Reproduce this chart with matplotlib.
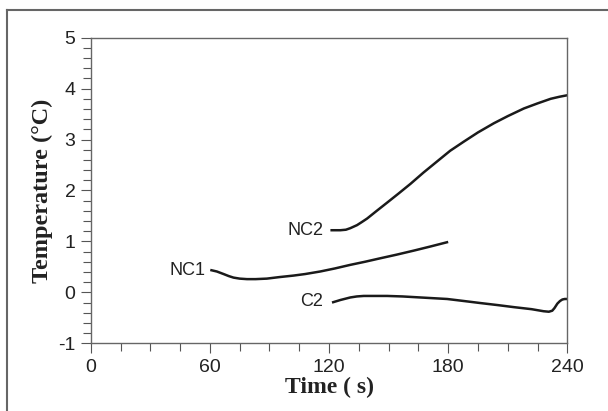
import matplotlib.pyplot as plt
from matplotlib.lines import Line2D
from matplotlib.ticker import MultipleLocator

plt.rcParams['axes.unicode_minus'] = False

# readings (time in s, temperature in degC)
t_nc1 = [60.2, 63.5, 66.9, 69.5, 71.9, 75.0, 78.7, 83.0, 88.7, 95.0, 102.2, 108.0,
         115.6, 123.0, 130.7, 138.0, 145.9, 154.0, 162.7, 171.0, 180.0]
T_nc1 = [0.44, 0.41, 0.36, 0.32, 0.29, 0.27, 0.26, 0.26, 0.27, 0.30, 0.33, 0.36,
         0.41, 0.47, 0.54, 0.60, 0.67, 0.74, 0.82, 0.90, 0.99]

t_nc2 = [120.7, 125.7, 128.5, 130.7, 134.1, 136.5, 139.2, 144.0, 149.2, 155.0, 161.0,
         167.5, 174.4, 181.0, 187.9, 195.0, 203.0, 210.0, 218.1, 225.0, 231.6, 236.0, 240.0]
T_nc2 = [1.22, 1.22, 1.23, 1.26, 1.32, 1.38, 1.45, 1.60, 1.76, 1.94, 2.13,
         2.35, 2.57, 2.78, 2.96, 3.14, 3.32, 3.46, 3.61, 3.71, 3.80, 3.84, 3.87]

t_c2 = [121.5, 125.7, 130.7, 134.0, 137.5, 143.0, 149.2, 157.0, 166.0, 179.5, 188.0,
        196.3, 205.0, 213.1, 222.0, 228.0, 230.7, 232.4, 233.5, 235.0, 236.3, 237.5, 238.7, 240.0]
T_c2 = [-0.20, -0.15, -0.10, -0.08, -0.07, -0.07, -0.07, -0.08, -0.10, -0.13, -0.17,
        -0.21, -0.25, -0.29, -0.33, -0.37, -0.38, -0.36, -0.31, -0.22, -0.17, -0.14, -0.13, -0.13]

curve_labels = ["NC1", "NC2", "C2"]
label_pos = [(58.0, 0.43), (117.0, 1.22), (117.0, -0.18)]

sans = ["Liberation Sans", "DejaVu Sans"]
serif = ["Liberation Serif", "DejaVu Serif"]

fig = plt.figure(figsize=(6.08, 4.11), dpi=100)
ax = fig.add_axes([0.1492, 0.1647, 0.7839, 0.7436])

for t, T in [(t_nc1, T_nc1), (t_nc2, T_nc2), (t_c2, T_c2)]:
    ax.plot(t, T, color="#1a1a1a", lw=1.8, solid_capstyle="butt", solid_joinstyle="round")

for name, (x, y) in zip(curve_labels, label_pos):
    ax.text(x, y, name, ha="right", va="center", fontsize=13, family=sans, color="#222")

ax.set_xlim(0, 240)
ax.set_ylim(-1, 5)
ax.xaxis.set_major_locator(MultipleLocator(60))
ax.xaxis.set_minor_locator(MultipleLocator(15))
ax.yaxis.set_major_locator(MultipleLocator(1))
ax.yaxis.set_minor_locator(MultipleLocator(0.2))
ax.tick_params(which="both", direction="out", color="#555", width=0.8)
ax.tick_params(which="major", length=7, pad=4, labelsize=14, labelcolor="#222")
ax.tick_params(which="minor", length=6)
for lab in ax.get_xticklabels() + ax.get_yticklabels():
    lab.set_family(sans)

for s in ax.spines.values():
    s.set_color("#666")
    s.set_linewidth(1.0)

ax.set_xlabel("Time ( s)", fontsize=17, fontweight="bold", family=serif, color="#222", labelpad=1)
ax.set_ylabel("Temperature (\u00b0C)", fontsize=17.5, fontweight="bold", family=serif, color="#222", labelpad=4)

# outer frame of the figure panel
fig.add_artist(Line2D([0.0115, 0.0115], [0.0, 0.9757], color="#666", lw=1.5))
fig.add_artist(Line2D([0.0115, 1.0], [0.9757, 0.9757], color="#666", lw=1.5))

fig.savefig("out.png", dpi=100)
